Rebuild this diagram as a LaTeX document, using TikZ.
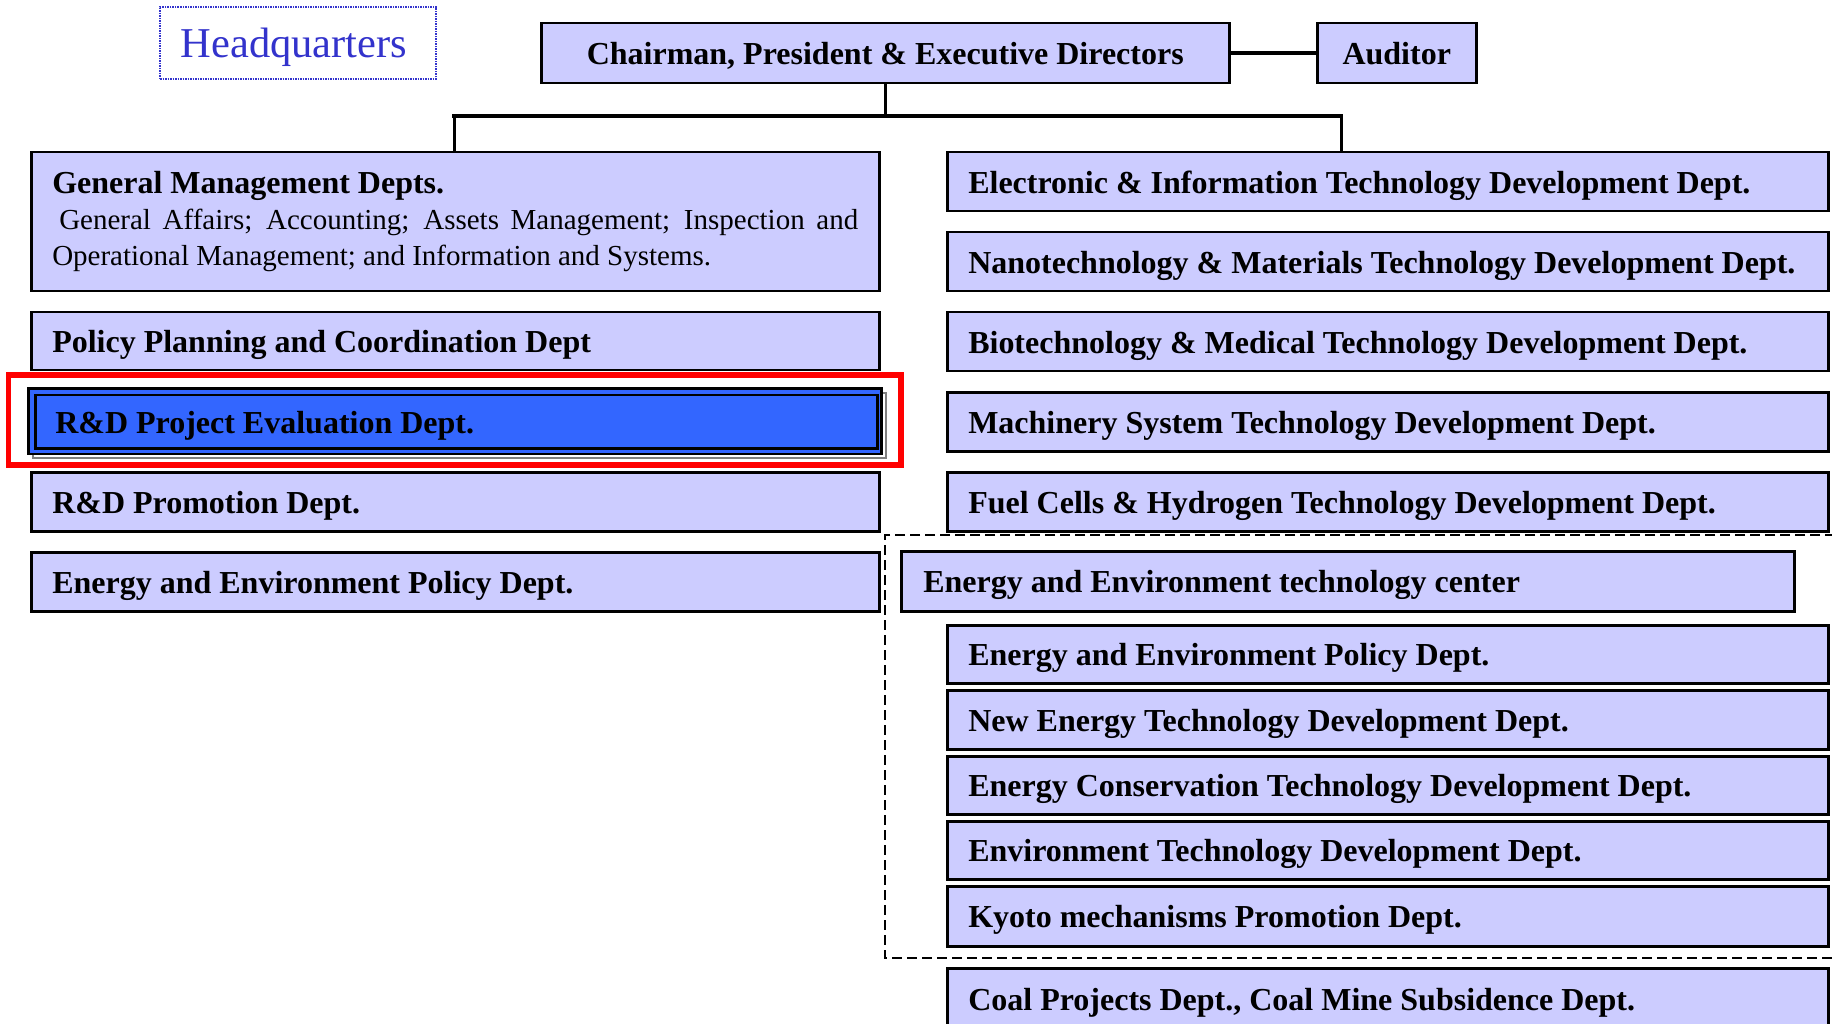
\documentclass[tikz,border=0pt]{standalone}
\usepackage{fontspec}
\setmainfont{Liberation Serif}
\definecolor{lav}{RGB}{204,204,255}
\definecolor{selblue}{RGB}{51,102,255}
\definecolor{hqblue}{RGB}{51,51,204}
\definecolor{hlred}{RGB}{255,0,0}
\definecolor{shadowgray}{RGB}{128,128,128}
\begin{document}
\begin{tikzpicture}[x=1pt,y=-1pt,
  box/.style={draw=black, line width=2.5pt, fill=lav, anchor=north west,
    inner xsep=21pt, inner ysep=0pt, align=flush left,
    font=\fontsize{32}{36}\selectfont\bfseries, text height=25pt, text depth=2pt},
  lbox/.style={box, text width=806pt},
  rbox/.style={box, text width=839pt},
  gmbox/.style={draw=black, line width=2.5pt, fill=lav, anchor=north west,
    inner xsep=21pt, inner ysep=0pt, align=flush left, text width=806pt},
  hqbox/.style={draw=hqblue, line width=1.5pt, densely dotted, text=hqblue,
    font=\fontsize{42.5}{48}\selectfont, minimum width=276pt, minimum height=72pt,
    text height=30pt, text depth=0pt, inner sep=0pt},
  tree/.style={line width=3.5pt},
  dashbox/.style={line width=2.3pt, dash pattern=on 10pt off 5pt},
]
\useasboundingbox (0,0) rectangle (1832,1024);
\fill[white] (0,0) rectangle (1832,1024);
\clip (0,0) rectangle (1832,1024);

% Headquarters label
\node[hqbox] (hq) at (298,43) {Headquarters\hspace*{8pt}};

% top level
\node[box, text width=646pt, align=flush center, minimum height=60pt] (chair) at (540,22) {Chairman, President \& Executive Directors};
\node[box, text width=117pt, align=flush center, minimum height=60pt] (aud) at (1316,22) {Auditor};
\draw[tree] (chair.east) -- (aud.west);

% left column
\node[gmbox, minimum height=139pt] (gm) at (30,151) {{\fontsize{32}{36}\selectfont\bfseries General Management Depts.}\\[7pt]
\parbox{806pt}{\fontsize{29}{36}\selectfont\hspace*{7pt}General Affairs; Accounting; Assets Management; Inspection and\linebreak Operational Management; and Information and Systems.}};
\node[lbox, minimum height=58pt] (pp) at (30,311) {Policy Planning and Coordination Dept};

% highlighted box
\draw[hlred, line width=5.5pt] (8.5,375) rectangle (901,465);
\draw[shadowgray, line width=2.5pt] (33,393) rectangle (886,458);
\draw[black, line width=2.5pt, fill=selblue] (28.5,388.5) rectangle (881.5,454);
\node[box, fill=selblue, text width=802pt, inner xsep=20pt, minimum height=53.5pt] (rdpe) at (34,393.5) {R\&D Project Evaluation Dept.};

\node[lbox, minimum height=59pt] (rdp) at (30,471) {R\&D Promotion Dept.};
\node[lbox, minimum height=59pt] (eep) at (30,551) {Energy and Environment Policy Dept.};

% right column
\node[rbox, minimum height=59pt] (elec) at (946,151) {Electronic \& Information Technology Development Dept.};
\node[rbox, minimum height=59pt] (nano) at (946,231) {Nanotechnology \& Materials Technology Development Dept.};
\node[rbox, minimum height=59pt] (bio) at (946,311) {Biotechnology \& Medical Technology Development Dept.};
\node[rbox, minimum height=59pt] (mach) at (946,391) {Machinery System Technology Development Dept.};
\node[rbox, minimum height=59pt] (fuel) at (946,471) {Fuel Cells \& Hydrogen Technology Development Dept.};

% energy and environment technology center group
\draw[dashbox] (1850,535) -- (885,535) -- (885,958) -- (1850,958);
\node[box, text width=849pt, inner xsep=22pt, minimum height=60pt] (eetc) at (900,550) {Energy and Environment technology center};
\node[rbox, minimum height=58pt] (eep2) at (946,624) {Energy and Environment Policy Dept.};
\node[rbox, minimum height=59pt] (newe) at (946,689) {New Energy Technology Development Dept.};
\node[rbox, minimum height=58pt] (econ) at (946,755) {Energy Conservation Technology Development Dept.};
\node[rbox, minimum height=58pt] (envt) at (946,820) {Environment Technology Development Dept.};
\node[rbox, minimum height=60pt] (kyoto) at (946,885) {Kyoto mechanisms Promotion Dept.};
\node[rbox, minimum height=62pt] (coal) at (946,967) {Coal Projects Dept., Coal Mine Subsidence Dept.};

% tree connectors
\coordinate (busL) at (454,116);
\coordinate (busR) at (1341,116);
\draw[tree] (chair.south) -- (chair.south |- busL);
\draw[tree, line cap=rect] (busL) -- (busR);
\draw[line width=3pt] (busL) -- (busL |- gm.north);
\draw[line width=3pt] (busR) -- (busR |- elec.north);
\end{tikzpicture}
\end{document}
